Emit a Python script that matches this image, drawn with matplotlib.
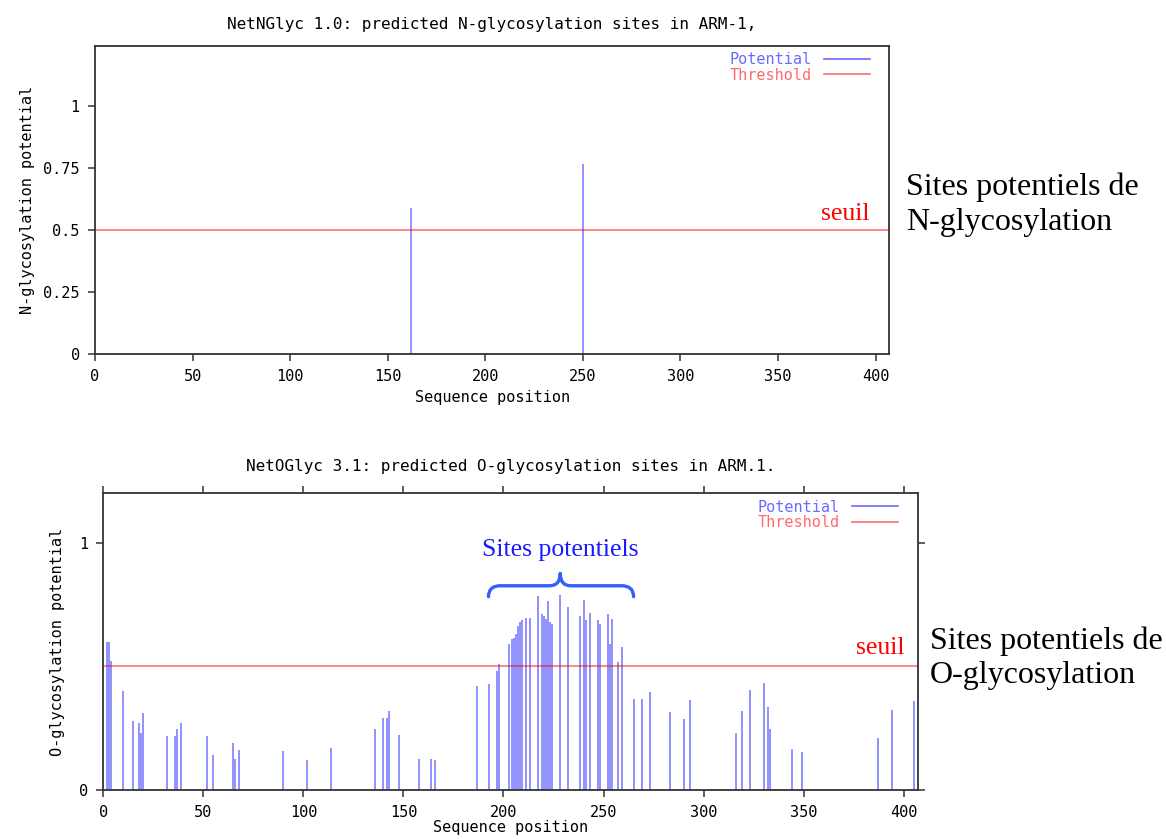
import matplotlib
matplotlib.use("Agg")
import matplotlib.pyplot as plt
from matplotlib.lines import Line2D
from matplotlib.path import Path
from matplotlib.patches import PathPatch

# ---------------- data ----------------
n_positions = [162, 250]
n_values = [0.59, 0.767]
n_threshold = 0.5

o_positions = [2, 3, 4, 10, 15, 18, 19, 20, 32, 36, 37, 39, 52, 55, 65, 66, 68,
               90, 102, 114, 136, 140, 142, 143, 148, 158, 164, 166, 187, 193,
               197, 198, 203, 204, 205, 206, 207, 208, 209, 211, 213, 217, 219,
               220, 221, 222, 223, 224, 228, 232, 238, 240, 241, 243, 247, 248,
               252, 253, 254, 257, 259, 265, 269, 273, 283, 290, 293, 316, 319,
               323, 330, 332, 333, 344, 349, 387, 394, 405]
o_values = [0.60, 0.60, 0.52, 0.40, 0.28, 0.27, 0.23, 0.31, 0.22, 0.22, 0.245,
            0.27, 0.22, 0.14, 0.19, 0.127, 0.16, 0.156, 0.12, 0.171, 0.245,
            0.29, 0.29, 0.32, 0.222, 0.127, 0.127, 0.121, 0.42, 0.427, 0.48,
            0.51, 0.59, 0.61, 0.615, 0.63, 0.665, 0.68, 0.686, 0.697, 0.697,
            0.783, 0.71, 0.702, 0.69, 0.766, 0.68, 0.67, 0.788, 0.74, 0.704,
            0.77, 0.686, 0.716, 0.686, 0.67, 0.71, 0.59, 0.69, 0.518, 0.58,
            0.37, 0.37, 0.398, 0.314, 0.286, 0.365, 0.229, 0.319, 0.404, 0.431,
            0.337, 0.245, 0.166, 0.155, 0.21, 0.325, 0.358]
o_threshold = 0.5

x_ticks = [0, 50, 100, 150, 200, 250, 300, 350, 400]
n_yticks = [0, 0.25, 0.5, 0.75, 1]
n_yticklabels = ["0", "0.25", "0.5", "0.75", "1"]
o_yticks = [0, 1]
o_yticklabels = ["0", "1"]
seq_len = 407

# ---------------- style ----------------
MONO = "DejaVu Sans Mono"
SERIF = "Liberation Serif"
FS = 11
FS_T = 11.5
BAR_C = (0, 0, 1, 0.5)
THR_C = (1, 0, 0, 0.5)
LEG_BLUE = "#6b6bff"
LEG_RED = "#ff6b6b"
SPINE_C = "#333333"

fig = plt.figure(figsize=(11.66, 8.39), dpi=100)


def style_axes(ax):
    for s in ax.spines.values():
        s.set_color(SPINE_C)
        s.set_linewidth(1.3)
    ax.tick_params(direction="out", length=5, width=1.1, color=SPINE_C,
                   labelsize=FS, pad=6)
    for lab in ax.get_xticklabels() + ax.get_yticklabels():
        lab.set_family(MONO)


def legend(ax, anchor):
    handles = [Line2D([], [], color=LEG_BLUE, lw=1.2),
               Line2D([], [], color=LEG_RED, lw=1.2)]
    leg = ax.legend(handles, ["Potential", "Threshold"], loc="upper right",
                    bbox_to_anchor=anchor, bbox_transform=ax.transAxes,
                    frameon=False, markerfirst=False, handlelength=3.0,
                    handletextpad=0.8, labelspacing=0.02, borderaxespad=0.0,
                    borderpad=0.0,
                    prop={"family": MONO, "size": FS},
                    labelcolor=[LEG_BLUE, LEG_RED])
    return leg


# ---------------- top chart ----------------
ax1 = fig.add_axes([95 / 1166, 1 - 354 / 839, (889.3 - 95) / 1166, (354 - 45.7) / 839])
ax1.vlines(n_positions, 0, n_values, colors=[BAR_C], lw=1.2)
ax1.axhline(n_threshold, color=THR_C, lw=1.3)
ax1.set_xlim(0, seq_len)
ax1.set_ylim(0, 1.243)
ax1.set_xticks(x_ticks)
ax1.set_yticks(n_yticks)
ax1.set_yticklabels(n_yticklabels)
style_axes(ax1)
ax1.set_title("NetNGlyc 1.0: predicted N-glycosylation sites in ARM-1,",
              family=MONO, size=FS_T, pad=12)
ax1.set_xlabel("Sequence position", family=MONO, size=FS, labelpad=4)
ax1.set_ylabel("N-glycosylation potential", family=MONO, size=FS, labelpad=6)
legend(ax1, (0.9757, 0.978))
ax1.text(0.975, n_threshold + 0.02, "seuil", transform=ax1.get_yaxis_transform(),
         ha="right", va="bottom", family=SERIF, size=18.5, color="red")

fig.text(906 / 1166, 1 - 205 / 839, "Sites potentiels de\nN-glycosylation",
         family=SERIF, size=23, color="black", ha="left", va="center",
         linespacing=1.28)

# ---------------- bottom chart ----------------
ax2 = fig.add_axes([103.3 / 1166, 1 - 790 / 839, (917.7 - 103.3) / 1166, (790 - 493.3) / 839])
ax2.vlines(o_positions, 0, o_values, colors=[BAR_C], lw=1.2)
ax2.axhline(o_threshold, color=THR_C, lw=1.3)
ax2.set_xlim(0, seq_len)
ax2.set_ylim(0, 1.2)
ax2.set_xticks(x_ticks)
ax2.set_yticks(o_yticks)
ax2.set_yticklabels(o_yticklabels)
style_axes(ax2)
ax2.tick_params(top=True, right=True, labeltop=False, labelright=False)
ax2.set_title("NetOGlyc 3.1: predicted O-glycosylation sites in ARM.1.",
              family=MONO, size=FS_T, pad=16)
ax2.set_xlabel("Sequence position", family=MONO, size=FS, labelpad=0)
ax2.set_ylabel("O-glycosylation potential", family=MONO, size=FS, labelpad=10)
legend(ax2, (0.9758, 0.978))
ax2.text(0.984, o_threshold + 0.03, "seuil", transform=ax2.get_yaxis_transform(),
         ha="right", va="bottom", family=SERIF, size=18.5, color="red")

# curly brace over the cluster
xl, xm, xr = 192.5, 228.35, 265.0
yb, yh, yc = 0.782, 0.826, 0.876
verts = [(xl, yb), (xl, yh), (xl + 5.8, yh),
         (xm - 5.4, yh),
         (xm, yh), (xm, yc),
         (xm, yh), (xm + 5.4, yh),
         (xr - 5.9, yh),
         (xr, yh), (xr, yb)]
codes = [Path.MOVETO, Path.CURVE3, Path.CURVE3,
         Path.LINETO,
         Path.CURVE3, Path.CURVE3,
         Path.CURVE3, Path.CURVE3,
         Path.LINETO,
         Path.CURVE3, Path.CURVE3]
ax2.add_patch(PathPatch(Path(verts, codes), fill=False, edgecolor="#3060ff",
                        lw=2.4, capstyle="round", joinstyle="round", clip_on=False))
ax2.text(xm, 0.925, "Sites potentiels", ha="center", va="bottom",
         family=SERIF, size=18.5, color="#1a1aff")

fig.text(930 / 1166, 1 - 658 / 839, "Sites potentiels de\nO-glycosylation",
         family=SERIF, size=23, color="black", ha="left", va="center",
         linespacing=1.22)

fig.savefig("out.png", dpi=100)
